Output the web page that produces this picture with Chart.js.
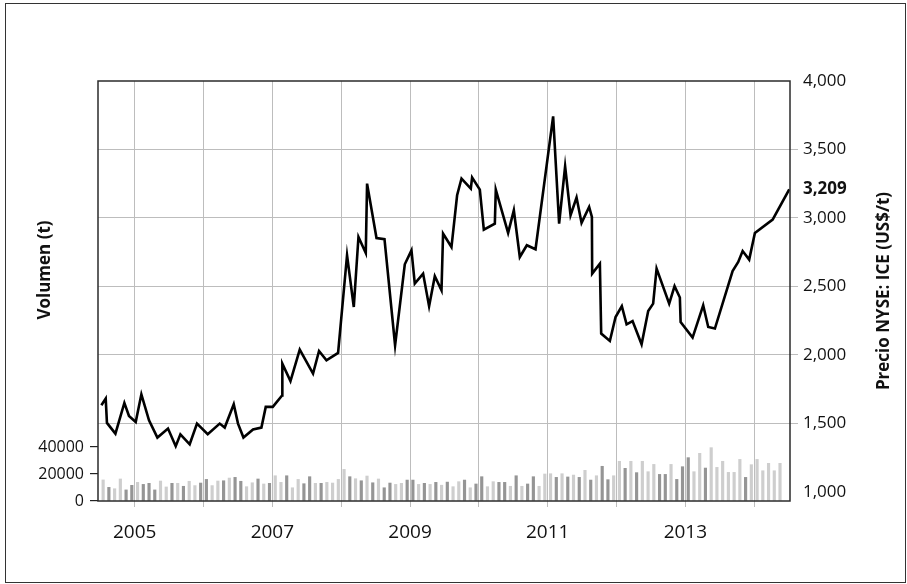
<!DOCTYPE html>
<html><head><meta charset="utf-8">
<script src="https://cdn.jsdelivr.net/npm/chart.js@4.4.1/dist/chart.umd.min.js"></script>
<style>
html,body{margin:0;padding:0;background:#fff;}
#wrap{position:relative;width:907px;height:584px;overflow:hidden;}
#frame{position:absolute;left:5px;top:3px;width:901px;height:580px;border:1.5px solid #333;box-sizing:border-box;pointer-events:none}
canvas{position:absolute;left:0;top:0}
</style></head><body>
<div id="wrap"><canvas id="c" width="907" height="584"></canvas><div id="frame"></div></div>
<script>
// ---- data ----
const volumeStart = { year: 2004, month: 7 };
const volume = [15600,10100,9100,16300,8200,11600,13800,12300,13100,8200,
14800,10400,13100,13100,10900,14600,11400,13300,16000,11400,
14800,15000,17000,17500,14600,10600,13500,16300,12600,13100,
18700,13800,18700,9800,16000,12800,18000,13100,13100,13800,
13300,16000,23400,18000,16500,15000,18500,13500,16300,9800,
13300,12300,13100,15500,15500,12300,13100,12300,13800,11700,
14000,10600,14300,15500,9800,12600,18000,10600,14300,13800,
13800,10900,18700,10900,12600,18000,10900,20000,20200,17500,
20200,17800,19200,17500,22700,15500,18700,25700,15800,18700,
29400,24200,29400,21000,29400,21700,27100,19700,19700,27100,
16000,25400,32100,21700,35300,24400,39500,24900,29400,21200,
21200,30800,17500,26900,30800,22400,27900,22400,27900];
const volumeGroup = ("LDLLDDLDDDLLDLDLLDDLLDLDDLLDLDLLDLLDDLDLLLLDLDLDLDDLLDDLDLDLD" +
                     "LLDLDDLLDDLDLDDLLLDLDLDLDLDDLLDLDLLLDDLDDDLLDLLLLLLDLLLLLL").split("");
const priceDates = [2004.516,2004.579,2004.597,2004.720,2004.850,2004.917,2005.015,2005.097,2005.208,2005.330,
2005.484,2005.596,2005.664,2005.799,2005.905,2006.061,2006.235,2006.308,2006.439,2006.501,
2006.580,2006.719,2006.841,2006.904,2007.006,2007.141,2007.145,2007.263,2007.398,2007.591,
2007.678,2007.786,2007.955,2008.085,2008.183,2008.251,2008.357,2008.376,2008.513,2008.629,
2008.783,2008.924,2009.021,2009.069,2009.190,2009.277,2009.360,2009.457,2009.480,2009.602,
2009.684,2009.748,2009.883,2009.902,2010.014,2010.072,2010.232,2010.246,2010.425,2010.508,
2010.595,2010.697,2010.823,2011.079,2011.166,2011.253,2011.332,2011.419,2011.492,2011.602,
2011.642,2011.646,2011.758,2011.777,2011.903,2011.986,2012.077,2012.146,2012.233,2012.364,
2012.460,2012.532,2012.582,2012.765,2012.843,2012.920,2012.931,2013.105,2013.259,2013.332,
2013.429,2013.686,2013.768,2013.832,2013.927,2014.010,2014.268,2014.509];
const priceValues = [1633,1682,1504,1426,1650,1555,1511,1713,1523,1397,
1463,1334,1421,1348,1499,1421,1499,1470,1640,1499,
1397,1456,1470,1621,1621,1704,1937,1810,2039,1864,
2029,1961,2015,2728,2350,2861,2745,3251,2854,2845,
2071,2662,2764,2521,2594,2356,2575,2472,2886,2788,
3166,3288,3215,3295,3207,2915,2959,3207,2891,3056,
2715,2801,2772,3742,2959,3377,3020,3149,2964,3080,
3007,2594,2667,2156,2102,2277,2356,2224,2248,2078,
2321,2375,2631,2375,2502,2419,2241,2127,2363,2204,
2193,2613,2679,2759,2696,2891,2988,3209];
const yearTicks = [2005,2006,2007,2008,2009,2010,2011,2012,2013,2014];
const volumeTicks = [0,20000,40000];
const priceTicks = [1000,1500,2000,2500,3000,3500,4000];
const leftTitle = "Volumen (t)";
const rightTitle = "Precio NYSE: ICE (US$/t)";
const lastPrice = priceValues[priceValues.length - 1];

// month positions (mid-month) for volume bars
const volumeMonths = volume.map((v, i) => volumeStart.year + (volumeStart.month - 1 + i + 0.5) / 12);

const FONT = "'Open Sans', 'Noto Sans', sans-serif";
const framePlugin = {
  id: 'frame',
  afterDraw(chart) {
    const {ctx, chartArea: a} = chart;
    ctx.save();
    ctx.strokeStyle = '#2b2b2b';
    ctx.lineWidth = 1.5;
    ctx.strokeRect(a.left, a.top, a.right - a.left, a.bottom - a.top);
    ctx.fillStyle = '#111';
    ctx.font = "bold 17px " + FONT;
    ctx.textAlign = 'center';
    ctx.textBaseline = 'middle';
    ctx.translate(45, 270);
    ctx.rotate(-Math.PI / 2);
    ctx.fillText(leftTitle, 0, 0);
    ctx.restore();
    ctx.save();
    ctx.fillStyle = '#111';
    ctx.font = "bold 17px " + FONT;
    ctx.textAlign = 'center';
    ctx.textBaseline = 'middle';
    ctx.translate(884, (a.top + a.bottom) / 2);
    ctx.rotate(-Math.PI / 2);
    ctx.fillText(rightTitle, 0, 0);
    ctx.restore();
  }
};

new Chart(document.getElementById('c'), {
  data: {
    datasets: [
      {
        type: 'line', label: 'precio', yAxisID: 'y1', xAxisID: 'x',
        data: priceDates.map((x, i) => ({x, y: priceValues[i]})),
        borderColor: '#000', borderWidth: 2.6, pointRadius: 0, tension: 0,
        borderJoinStyle: 'miter', order: 0
      },
      {
        type: 'bar', label: 'volumen', yAxisID: 'y', xAxisID: 'x',
        data: volumeMonths.map((x, i) => ({x, y: volume[i]})),
        backgroundColor: volumeGroup.map(g => g === 'D' ? '#959595' : '#cecece'),
        barThickness: 2.5, order: 1
      }
    ]
  },
  options: {
    responsive: false, animation: false, devicePixelRatio: 1,
    layout: {padding: {top: 81, left: 0, right: 0, bottom: 0}},
    plugins: {legend: {display: false}, tooltip: {enabled: false}},
    scales: {
      x: {
        type: 'linear', position: 'bottom', min: 2004.467, max: 2014.52, offset: false,
        afterBuildTicks: s => { s.ticks = yearTicks.map(v => ({value: v})); },
        afterFit: s => { s.height = 83; },
        ticks: {
          autoSkip: false, maxRotation: 0, color: '#111', padding: 14,
          font: {family: FONT, size: 19},
          callback: v => (v % 2 === 1 ? String(v) : '')
        },
        grid: {color: '#bdbdbd', lineWidth: 1, tickLength: 6, offset: false},
        border: {display: false}
      },
      y: {
        position: 'left', min: 0, max: 311000,
        afterBuildTicks: s => { s.ticks = volumeTicks.map(v => ({value: v})); },
        afterFit: s => { s.width = 98; },
        ticks: {color: '#111', padding: 6, font: {family: FONT, size: 16}, callback: v => String(v)},
        grid: {drawOnChartArea: false, tickLength: 8, color: '#222', lineWidth: 1.2},
        border: {display: false}
      },
      y1: {
        position: 'right', min: 934, max: 4000,
        afterBuildTicks: s => { s.ticks = priceTicks.concat([lastPrice]).map(v => ({value: v})); },
        afterFit: s => { s.width = 117; },
        ticks: {
          color: '#111', padding: 5,
          font: ctx => (ctx.tick && ctx.tick.value === lastPrice) ? {family: FONT, size: 17, weight: 'bold'} : {family: FONT, size: 17},
          callback: v => Number(v).toLocaleString('en-US')
        },
        grid: {
          tickLength: 8, lineWidth: 1,
          color: ctx => (ctx.tick && (ctx.tick.value === lastPrice || ctx.tick.value === 1000 || ctx.tick.value === 4000)) ? 'rgba(0,0,0,0)' : '#bdbdbd'
        },
        border: {display: false}
      }
    }
  },
  plugins: [framePlugin]
});
</script>
</body></html>
